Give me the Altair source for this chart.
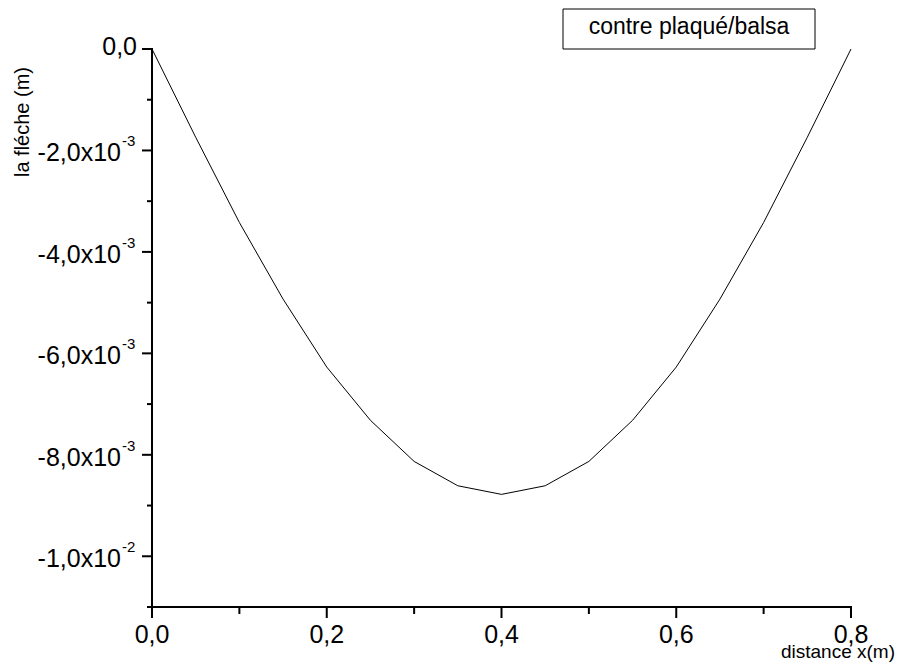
import altair as alt
import pandas as pd

# ---- data ----
x_vals = [0.00, 0.05, 0.10, 0.15, 0.20, 0.25, 0.30, 0.35, 0.40,
          0.45, 0.50, 0.55, 0.60, 0.65, 0.70, 0.75, 0.80]
y_vals = [0.0, -1.74e-3, -3.42e-3, -4.93e-3, -6.27e-3, -7.32e-3, -8.13e-3, -8.61e-3, -8.78e-3,
          -8.61e-3, -8.13e-3, -7.32e-3, -6.27e-3, -4.93e-3, -3.42e-3, -1.74e-3, 0.0]

x_major = [0.0, 0.2, 0.4, 0.6, 0.8]
x_major_labels = ["0,0", "0,2", "0,4", "0,6", "0,8"]
x_minor = [0.1, 0.3, 0.5, 0.7]

y_zero = [0.0]
y_zero_label = ["0,0"]
y_exp_ticks = [-0.002, -0.004, -0.006, -0.008, -0.010]
y_exp_main = ["-2,0x10", "-4,0x10", "-6,0x10", "-8,0x10", "-1,0x10"]
y_exp_sup = ["-3", "-3", "-3", "-3", "-2"]
y_minor = [-0.001, -0.003, -0.005, -0.007, -0.009, -0.011]

legend_label = "contre plaqué/balsa"
x_title = "distance x(m)"
y_title = "la fléche  (m)"

W, H = 699, 558
FONT = "Liberation Sans"

xs = alt.Scale(domain=[0, 0.8], nice=False, zero=False)
ys = alt.Scale(domain=[-0.011, 0], nice=False, zero=False)

curve_df = pd.DataFrame({"x": x_vals, "y": y_vals})
one = pd.DataFrame({"a": [0]})

line = alt.Chart(curve_df).mark_line(color="black", strokeWidth=1).encode(
    x=alt.X("x:Q", scale=xs, axis=None),
    y=alt.Y("y:Q", scale=ys, axis=None),
)

left_axis = alt.Chart(one).mark_rule(color="black", strokeWidth=2).encode(
    x=alt.value(0), y=alt.value(-1), y2=alt.value(H + 1)
)
bottom_axis = alt.Chart(one).mark_rule(color="black", strokeWidth=2).encode(
    x=alt.value(-1), x2=alt.value(W + 1), y=alt.value(H)
)

ymaj_df = pd.DataFrame({"v": y_zero + y_exp_ticks})
ymin_df = pd.DataFrame({"v": y_minor})
xmaj_df = pd.DataFrame({"v": x_major, "t": x_major_labels})
xmin_df = pd.DataFrame({"v": x_minor})

y_major_ticks = alt.Chart(ymaj_df).mark_rule(color="black", strokeWidth=2).encode(
    y=alt.Y("v:Q", scale=ys, axis=None), x=alt.value(-10), x2=alt.value(0)
)
y_minor_ticks = alt.Chart(ymin_df).mark_rule(color="black", strokeWidth=2).encode(
    y=alt.Y("v:Q", scale=ys, axis=None), x=alt.value(-5), x2=alt.value(0)
)
x_major_ticks = alt.Chart(xmaj_df).mark_rule(color="black", strokeWidth=2).encode(
    x=alt.X("v:Q", scale=xs, axis=None), y=alt.value(H), y2=alt.value(H + 11)
)
x_minor_ticks = alt.Chart(xmin_df).mark_rule(color="black", strokeWidth=2).encode(
    x=alt.X("v:Q", scale=xs, axis=None), y=alt.value(H), y2=alt.value(H + 7)
)

x_labels = alt.Chart(xmaj_df).mark_text(
    font=FONT, fontSize=25, align="center", baseline="alphabetic", color="black"
).encode(x=alt.X("v:Q", scale=xs, axis=None), y=alt.value(H + 36), text="t:N")

yzero_df = pd.DataFrame({"v": y_zero, "t": y_zero_label})
y_zero_text = alt.Chart(yzero_df).mark_text(
    font=FONT, fontSize=25, align="right", baseline="alphabetic", color="black", dy=6
).encode(y=alt.Y("v:Q", scale=ys, axis=None), x=alt.value(-15), text="t:N")

yexp_df = pd.DataFrame({"v": y_exp_ticks, "m": y_exp_main, "s": y_exp_sup})
y_main_text = alt.Chart(yexp_df).mark_text(
    font=FONT, fontSize=25, align="right", baseline="alphabetic", color="black", dy=11
).encode(y=alt.Y("v:Q", scale=ys, axis=None), x=alt.value(-31), text="m:N")
y_sup_text = alt.Chart(yexp_df).mark_text(
    font=FONT, fontSize=15, align="left", baseline="alphabetic", color="black", dy=-4
).encode(y=alt.Y("v:Q", scale=ys, axis=None), x=alt.value(-30), text="s:N")

xt = alt.Chart(pd.DataFrame({"t": [x_title]})).mark_text(
    font=FONT, fontSize=19, align="right", baseline="alphabetic", color="black"
).encode(x=alt.value(743), y=alt.value(H + 51), text="t:N")

yt = alt.Chart(pd.DataFrame({"t": [y_title]})).mark_text(
    font=FONT, fontSize=20, align="center", baseline="alphabetic", color="black", angle=270
).encode(x=alt.value(-123), y=alt.value(73), text="t:N")

legend_box = alt.Chart(one).mark_rect(fill="white", stroke="black", strokeWidth=1).encode(
    x=alt.value(411), x2=alt.value(663), y=alt.value(-40), y2=alt.value(0)
)
legend_text = alt.Chart(pd.DataFrame({"t": [legend_label]})).mark_text(
    font=FONT, fontSize=23, align="center", baseline="alphabetic", color="black"
).encode(x=alt.value(537), y=alt.value(-15), text="t:N")

chart = alt.layer(
    line, left_axis, bottom_axis,
    y_major_ticks, y_minor_ticks, x_major_ticks, x_minor_ticks,
    x_labels, y_zero_text, y_main_text, y_sup_text,
    xt, yt, legend_box, legend_text,
).properties(
    width=W, height=H,
    autosize=alt.AutoSizeParams(type="none"),
    padding={"left": 144, "top": 41, "right": 45, "bottom": 55},
    background="white",
).configure_view(strokeWidth=0)

chart.save("out.html", embed_options={"renderer": "svg", "actions": False})
